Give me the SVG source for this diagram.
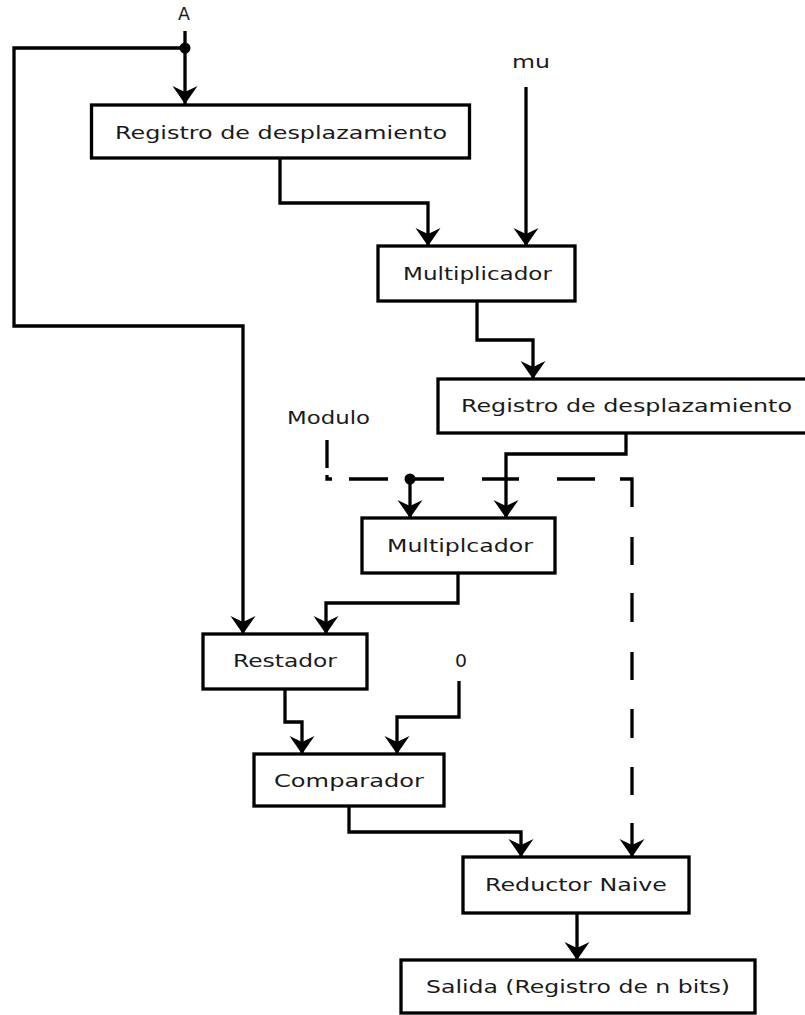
<svg xmlns="http://www.w3.org/2000/svg" width="805" height="1015" viewBox="0 0 805 1015">
<style>
.box{fill:#fff;stroke:#000;stroke-width:3.3}
.t{font-family:"DejaVu Sans","Liberation Sans",sans-serif;font-size:17px;fill:#1a1a1a}
.wa{fill:none;stroke:#000;stroke-width:3.3;marker-end:url(#ah)}
</style>
<defs>
<marker id="ah" viewBox="-22 -15 24 30" refX="0" refY="0" markerWidth="24" markerHeight="30" orient="auto" markerUnits="userSpaceOnUse">
<path d="M0,0 L-18,-12.5 L-12,0 L-18,12.5 Z" fill="#000"/>
</marker>
</defs>
<rect width="805" height="1015" fill="#fff"/>
<g id="connectors">
<path class="wa" d="M185,31 V104"/>
<path class="wa" d="M185,48 H14 V326 H243 V634"/>
<path class="wa" d="M280,158 V203 H428 V246"/>
<path class="wa" d="M526,87 V246"/>
<path class="wa" d="M477,301 V340 H533 V379"/>
<path class="wa" d="M626,433 V454 H506 V518"/>
<path class="wa" d="M410,479 V518"/>
<path class="wa" d="M458,573 V603 H326 V634"/>
<path class="wa" d="M285,689 V722 H302 V754"/>
<path class="wa" d="M459,681 V717 H397 V754"/>
<path class="wa" d="M349,806 V832 H521 V857"/>
<path class="wa" d="M327,440 V468 M327,475 V479 H332 M349,479 H388 M405,479 H444 M482,479 H519 M557,479 H595 M620,479 H632 V507 M632,537 V565 M632,593 V622 M632,652 V680 M632,709 V738 M632,767 V795 M632,823 V857"/>
<path class="wa" d="M577,913 V960"/>
<circle cx="185" cy="48" r="5.5" fill="#000"/>
<circle cx="410" cy="479" r="5.5" fill="#000"/>
</g>
<g id="label-A"><text class="t" x="178" y="20" textLength="12" lengthAdjust="spacingAndGlyphs">A</text></g>
<g id="label-mu"><text class="t" x="512" y="68" textLength="38" lengthAdjust="spacingAndGlyphs">mu</text></g>
<g id="label-Modulo"><text class="t" x="287" y="424" textLength="83" lengthAdjust="spacingAndGlyphs">Modulo</text></g>
<g id="label-0"><text class="t" x="455" y="667" textLength="12" lengthAdjust="spacingAndGlyphs">0</text></g>
<g id="reg1"><rect class="box" x="91.5" y="105" width="378" height="53"/><text class="t" x="115" y="139" textLength="332" lengthAdjust="spacingAndGlyphs">Registro de desplazamiento</text></g>
<g id="mult1"><rect class="box" x="378" y="246" width="197" height="55"/><text class="t" x="403" y="280" textLength="149" lengthAdjust="spacingAndGlyphs">Multiplicador</text></g>
<g id="reg2"><rect class="box" x="438" y="379" width="372" height="54"/><text class="t" x="461" y="412" textLength="331" lengthAdjust="spacingAndGlyphs">Registro de desplazamiento</text></g>
<g id="mult2"><rect class="box" x="362" y="518" width="193" height="55"/><text class="t" x="387" y="552" textLength="146" lengthAdjust="spacingAndGlyphs">Multiplcador</text></g>
<g id="restador"><rect class="box" x="203" y="634" width="164" height="55"/><text class="t" x="233" y="667" textLength="104" lengthAdjust="spacingAndGlyphs">Restador</text></g>
<g id="comparador"><rect class="box" x="254" y="754" width="190" height="52"/><text class="t" x="274" y="787" textLength="150" lengthAdjust="spacingAndGlyphs">Comparador</text></g>
<g id="reductor"><rect class="box" x="463" y="857" width="226" height="56"/><text class="t" x="485" y="891" textLength="182" lengthAdjust="spacingAndGlyphs">Reductor Naive</text></g>
<g id="salida"><rect class="box" x="401" y="960" width="354" height="53"/><text class="t" x="426" y="993" textLength="304" lengthAdjust="spacingAndGlyphs">Salida (Registro de n bits)</text></g>
</svg>
